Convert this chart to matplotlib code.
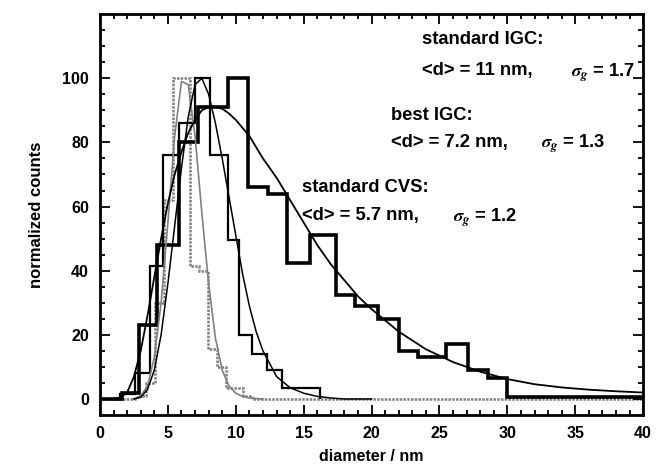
import matplotlib
matplotlib.use('Agg')
from matplotlib import pyplot as plt
from matplotlib.ticker import MultipleLocator

plt.rcParams['font.family'] = ['Liberation Sans', 'DejaVu Sans']
plt.rcParams['font.weight'] = 'bold'
plt.rcParams['mathtext.fontset'] = 'stix'

# standard IGC histogram (thick black)
igc_edges = [0, 1.6, 2.9, 4.2, 5.8, 7.2, 9.4, 10.9, 12.4, 13.8, 15.5, 17.4, 18.8,
             20.5, 22.0, 23.4, 25.5, 27.1, 28.6, 30.0, 40.0]
igc_counts = [0, 2, 23, 48, 80, 91, 100, 66, 64, 42.5, 51, 32.5, 29, 25, 15, 13,
              17, 9, 6.5, 0.5]

# best IGC histogram (medium black)
best_edges = [0, 1.5, 2.6, 3.7, 4.65, 5.8, 7.0, 8.1, 9.4, 10.2, 11.2, 12.3, 13.4, 16.2]
best_counts = [0, 1.5, 8, 41.5, 76, 86, 100, 76, 49.5, 20, 14, 9, 3.5]

# standard CVS histogram (grey)
cvs_edges = [0, 2.75, 3.4, 4.05, 4.7, 5.35, 6.0, 6.65, 7.3, 7.95, 8.6, 9.25, 9.9,
             10.55, 11.2, 40.0]
cvs_counts = [0, 1, 5, 30, 62, 100, 100, 41.5, 40, 15.6, 10, 3.5, 3.5, 1, 0]

# fitted curves
igc_fit_x = [0, 1.0, 1.5, 2.0, 2.5, 3.0, 3.5, 4.0, 4.5, 5.0, 5.5, 6.0, 6.5, 7.0, 7.5,
             8.0, 8.5, 9.0, 9.5, 10, 11, 12, 13, 14, 15, 16, 17, 18, 19, 20, 22, 24,
             26, 28, 30, 32, 34, 36, 38, 40]
igc_fit_y = [0, 0, 0.5, 2, 7, 15, 26, 38, 50, 61, 70, 77, 83, 87, 90, 91, 91, 90.5,
             89, 87, 82, 75, 69, 62, 55, 48, 42, 37, 32, 28, 21, 15.5, 11.5, 8.5, 6.2,
             4.6, 3.6, 2.9, 2.4, 2.0]

best_fit_x = [2.5, 3, 3.5, 4, 4.5, 5, 5.5, 6, 6.5, 7, 7.5, 8, 8.5, 9, 9.5, 10, 10.5,
              11, 11.5, 12, 13, 14, 15, 16, 17, 18, 20]
best_fit_y = [0, 0.5, 3, 9, 20, 36, 54, 72, 88, 98, 100, 95, 86, 75, 63, 51, 39, 29,
              21, 15, 7, 3.5, 1.8, 0.8, 0.3, 0, 0]

cvs_fit_x = [2.5, 3, 3.5, 4, 4.5, 5, 5.5, 6, 6.5, 7, 7.5, 8, 8.5, 9, 9.5, 10, 10.5, 11, 12]
cvs_fit_y = [0, 1, 4, 13, 30, 55, 82, 99, 98, 82, 58, 36, 19, 9, 4, 1.8, 0.8, 0.3, 0]

fig = plt.figure(figsize=(6.6, 4.7), dpi=100)
ax = fig.add_axes([0.1515, 0.117, 0.823, 0.853])

grey = '0.5'
ax.stairs(cvs_counts, cvs_edges, color=grey, lw=1.8, ls=(0, (1, 0.5)))
ax.plot(cvs_fit_x, cvs_fit_y, color=grey, lw=1.2)
ax.stairs(best_counts, best_edges, color='black', lw=1.6)
ax.plot(best_fit_x, best_fit_y, color='black', lw=1.1)
ax.stairs(igc_counts, igc_edges, color='black', lw=2.6)
ax.plot(igc_fit_x, igc_fit_y, color='black', lw=1.3)

ax.set_xlim(0, 40)
ax.set_ylim(-5, 120)
ax.xaxis.set_major_locator(MultipleLocator(5))
ax.xaxis.set_minor_locator(MultipleLocator(1))
ax.yaxis.set_minor_locator(MultipleLocator(5))
ax.set_yticks([0, 20, 40, 60, 80, 100])
ax.tick_params(which='both', direction='in', top=True, right=True, width=1.3)
ax.tick_params(which='major', length=7, labelsize=11.5, pad=8)
ax.tick_params(which='minor', length=3.5)
for lab in ax.get_xticklabels() + ax.get_yticklabels():
    lab.set_fontweight('bold')
for sp in ax.spines.values():
    sp.set_linewidth(2)

ax.set_xlabel('diameter / nm', fontsize=11.5, fontweight='bold', labelpad=6)
ax.set_ylabel('normalized counts', fontsize=12, fontweight='bold', labelpad=13)

fs = 13.2
va = 'center_baseline'
ax.text(23.7, 112.8, 'standard IGC:', fontsize=fs, fontweight='bold', va=va)
ax.text(23.7, 103, '<d> = 11 nm,', fontsize=fs, fontweight='bold', va=va)
ax.text(34.7, 103, r'$\sigma_g$ = 1.7', fontsize=fs, fontweight='bold', va=va)
ax.text(21.4, 89, 'best IGC:', fontsize=fs, fontweight='bold', va=va)
ax.text(21.4, 80.6, '<d> = 7.2 nm,', fontsize=fs, fontweight='bold', va=va)
ax.text(32.5, 80.6, r'$\sigma_g$ = 1.3', fontsize=fs, fontweight='bold', va=va)
ax.text(14.9, 66.5, 'standard CVS:', fontsize=fs, fontweight='bold', va=va)
ax.text(14.9, 57.8, '<d> = 5.7 nm,', fontsize=fs, fontweight='bold', va=va)
ax.text(26.0, 57.8, r'$\sigma_g$ = 1.2', fontsize=fs, fontweight='bold', va=va)

fig.savefig('out.png', dpi=100)
